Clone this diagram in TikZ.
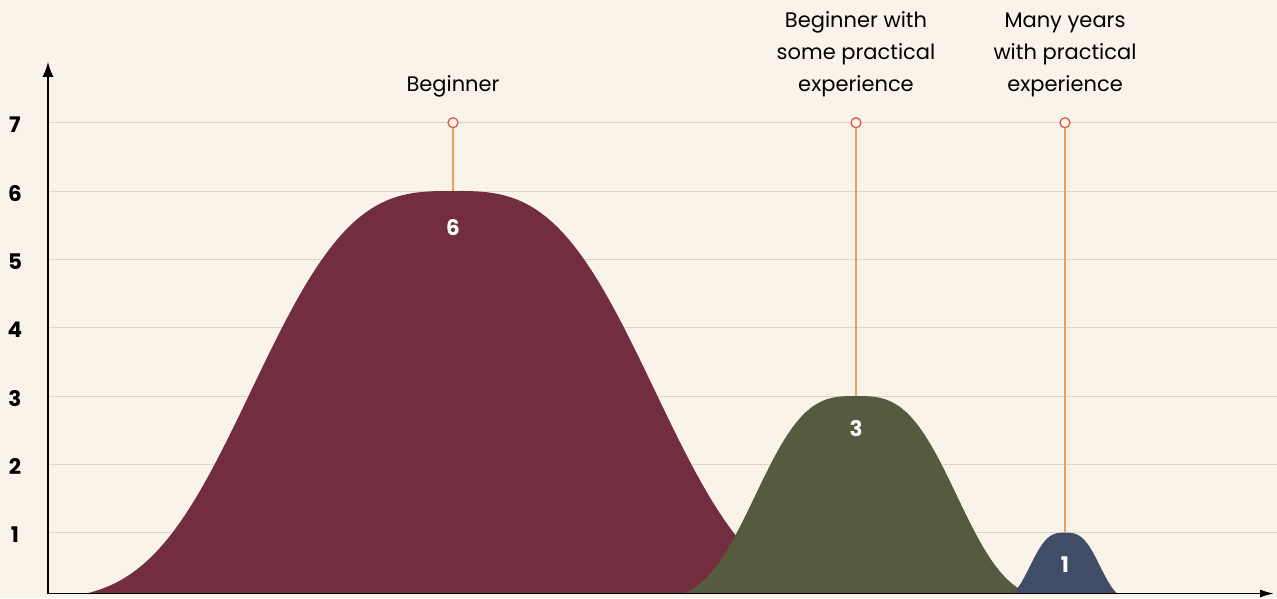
\documentclass[tikz,border=0pt]{standalone}
\usepackage{fontspec}
\setmainfont{Poppins}
\usetikzlibrary{arrows.meta, positioning}
\definecolor{paper}{HTML}{FAF3EA}
\definecolor{gridgray}{HTML}{DDD4CA}
\definecolor{wine}{HTML}{722D3E}
\definecolor{moss}{HTML}{545B3E}
\definecolor{slate}{HTML}{414D66}
\definecolor{stemorange}{HTML}{EC9F58}
\definecolor{markred}{HTML}{D4573B}
\tikzset{
  axisline/.style={line width=1.6pt, black},
  gridline/.style={gridgray, line width=0.9pt},
  ylabel/.style={font=\bfseries\fontsize{21.5}{21.5}\selectfont},
  levellabel/.style={font=\fontsize{21}{32}\selectfont, align=center, inner sep=0pt},
  peakval/.style={text=white, font=\bfseries\fontsize{21.5}{21.5}\selectfont},
  marker/.style={circle, draw=markred, fill=paper, line width=1.2pt, minimum size=10pt, inner sep=0pt},
  stem/.style={draw=stemorange, line width=1.4pt}
}
\begin{document}
\begin{tikzpicture}[x=1pt, y=68.33pt, node distance=20pt]
  \useasboundingbox[fill=paper] (0,0.044) rectangle (1277,8.796);
  % grid and level numbers
  \foreach \v in {1,...,7} {
    \draw[gridline] (48,\v) -- (1277,\v);
    \node[ylabel] (lvl\v) at (15,\v-0.03) {\v};
  }
  % the three hills
  \begin{scope}
    \clip (48,0.11) rectangle (1277,8);
    \fill[wine] plot[domain=48:900, samples=220] (\x,{6*exp(-(abs((\x-453)/231)^3))}) |- (48,0) -- cycle;
    \fill[moss] plot[domain=640:1080, samples=160] (\x,{3*exp(-(abs((\x-856)/115.5)^3))}) |- (640,0) -- cycle;
    \fill[slate] plot[domain=960:1170, samples=120] (\x,{exp(-(abs((\x-1065)/40)^3))}) |- (960,0) -- cycle;
  \end{scope}
  % peaks
  \coordinate (beginnerpeak) at (453,6);
  \coordinate (somepeak) at (856,3);
  \coordinate (yearspeak) at (1065,1);
  \node[marker] (beginnermark) at (453,7) {};
  \node[marker] (somemark) at (856,7) {};
  \node[marker] (yearsmark) at (1065,7) {};
  \draw[stem] (beginnermark) -- (beginnerpeak);
  \draw[stem] (somemark) -- (somepeak);
  \draw[stem] (yearsmark) -- (yearspeak);
  \node[levellabel, above=of beginnermark] (beginner) {Beginner};
  \node[levellabel, above=of somemark] (some) {Beginner with\\some practical\\experience};
  \node[levellabel, above=of yearsmark] (years) {Many years\\with practical\\experience};
  \node[peakval] (beginnerval) at (453,5.46) {6};
  \node[peakval] (someval) at (856,2.53) {3};
  \node[peakval] (yearsval) at (1065,0.534) {1};
  % axes
  \coordinate (origin) at (48,0.11);
  \coordinate (xend) at (1274,0.11);
  \coordinate (yend) at (48,7.89);
  \draw[axisline, -{Latex[length=14pt, width=8pt]}] (origin) -- (xend);
  \draw[axisline, -{Latex[length=15pt, width=11pt]}] (origin) -- (yend);
\end{tikzpicture}
\end{document}
